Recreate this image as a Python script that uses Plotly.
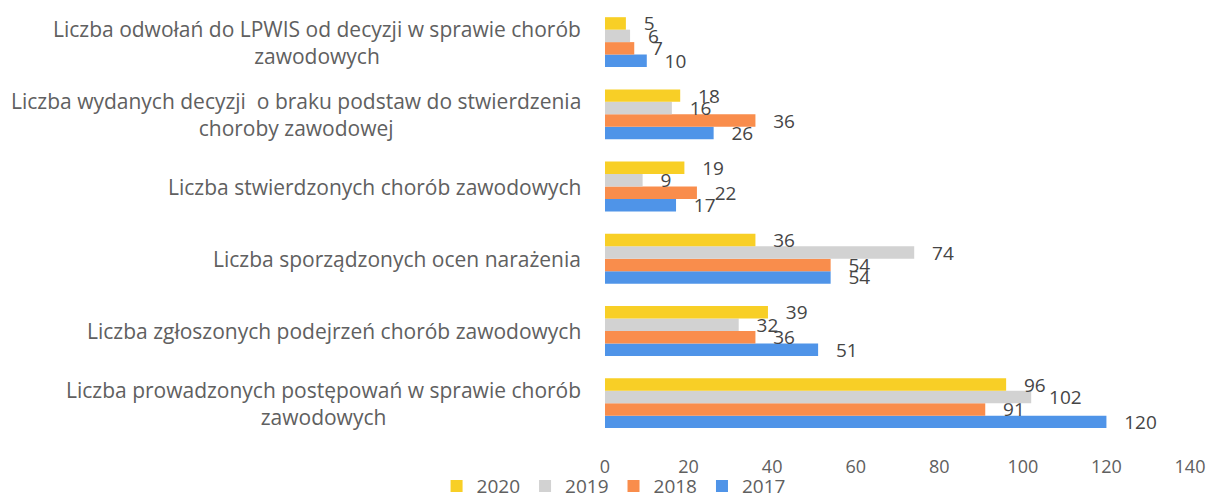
import plotly.graph_objects as go

categories = [
    "Liczba prowadzonych postępowań w sprawie chorób<br>zawodowych",
    "Liczba zgłoszonych podejrzeń chorób zawodowych",
    "Liczba sporządzonych ocen narażenia",
    "Liczba stwierdzonych chorób zawodowych",
    "Liczba wydanych decyzji  o braku podstaw do stwierdzenia<br>choroby zawodowej",
    "Liczba odwołań do LPWIS od decyzji w sprawie chorób<br>zawodowych",
]
v2017 = [120, 51, 54, 17, 26, 10]
v2018 = [91, 36, 54, 22, 36, 7]
v2019 = [102, 32, 74, 9, 16, 6]
v2020 = [96, 39, 36, 19, 18, 5]
years = ["2017", "2018", "2019", "2020"]
colors = ["#4F94E8", "#F98D4C", "#D2D2D2", "#F8CF26"]

FONT = "Open Sans"
fig = go.Figure()
for name, vals, col in zip(years, [v2017, v2018, v2019, v2020], colors):
    fig.add_trace(go.Bar(
        y=categories, x=vals, name=name, orientation="h",
        marker=dict(color=col, line=dict(width=0)),
        text=[str(v) for v in vals], textposition="outside",
        texttemplate="\u00a0\u00a0\u00a0%{text}",
        constraintext="none",
        textfont=dict(family=FONT, size=19, color="#454545"),
        cliponaxis=False,
    ))

for c in categories:
    fig.add_annotation(
        x=-0.038, xref="paper", y=c, yref="y", text=c, showarrow=False,
        xanchor="right", yanchor="middle", align="center",
        font=dict(family=FONT, size=21, color="#606060"),
    )

fig.update_layout(
    width=1215, height=499,
    margin=dict(l=605, r=25, t=6, b=47),
    paper_bgcolor="white", plot_bgcolor="white",
    barmode="group", bargap=0.31, bargroupgap=0,
    xaxis=dict(range=[0, 140], dtick=20, showgrid=False, zeroline=False,
               showline=False, ticks="", automargin=False,
               ticklabelstandoff=2,
               tickfont=dict(family=FONT, size=18, color="#606060")),
    yaxis=dict(categoryorder="array", categoryarray=categories,
               range=[-0.676, 5.5], showticklabels=False, showgrid=False,
               zeroline=False, showline=False, ticks="", automargin=False),
    legend=dict(orientation="h", traceorder="reversed",
                xref="container", yref="container",
                x=0.505, xanchor="center", y=0.026, yanchor="middle",
                bgcolor="rgba(0,0,0,0)",
                font=dict(family=FONT, size=19, color="#606060"),
                itemwidth=30),
    showlegend=True,
)
fig.write_html("out.html",
               config={"displayModeBar": False},
               post_script="document.body.style.margin='0';document.body.style.padding='0';")
